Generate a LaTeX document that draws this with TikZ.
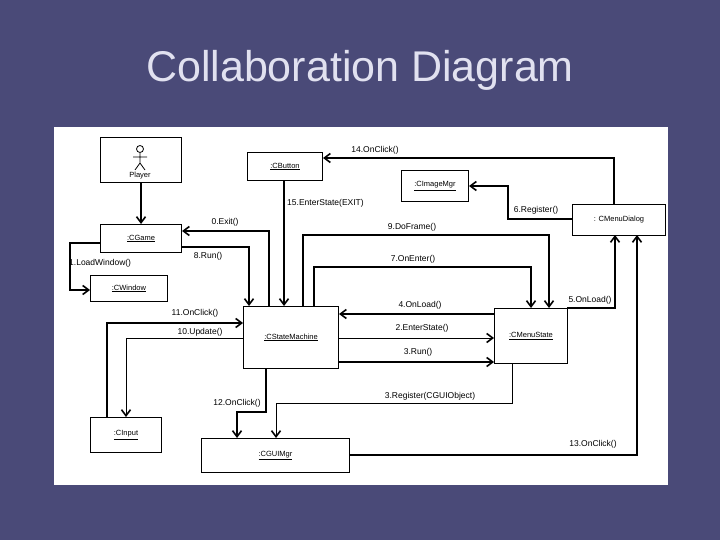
\documentclass[tikz,border=0pt]{standalone}
\usepackage{fontspec}
\setmainfont{Liberation Sans}
\usetikzlibrary{arrows.meta}
\begin{document}
\begin{tikzpicture}[x=1pt,y=-1pt,
  obj/.style={draw,line width=1pt,fill=white,inner sep=0pt,font=\fontsize{7.5}{8}\selectfont},
  msg/.style={line width=1.6pt,-{Straight Barb[length=6pt,width=9pt,line width=1.6pt]}},
  lbl/.style={font=\fontsize{8.5}{9}\selectfont,inner sep=1pt}]
\useasboundingbox (0,0) rectangle (720,540);
\fill[color={rgb,255:red,74;green,74;blue,120}] (0,0) rectangle (720,540);
\node[font=\fontsize{43}{48}\selectfont,text={rgb,255:red,225;green,225;blue,240}] (title) at (360,70) {Collaboration Diagram};
\node[fill=white,minimum width=614,minimum height=358,inner sep=0pt,anchor=north west] (panel) at (54,127) {};
% objects
\node[obj,minimum width=81,minimum height=45,anchor=north west] (player) at (100,137) {};
\node[font=\fontsize{7.5}{8}\selectfont,inner sep=0pt] (plabel) at (140,176) {Player};
\draw[line width=0.8pt] (140,149) circle (3.5) (140,152.5) -- (140,163) (133,157) -- (147,157) (140,163) -- (135,170) (140,163) -- (145,170);
\node[obj,minimum width=75,minimum height=28,anchor=north west] (button) at (247,152) {\underline{:CButton}};
\node[obj,minimum width=81,minimum height=28,anchor=north west] (game) at (100,224) {\underline{:CGame}};
\node[obj,minimum width=77,minimum height=26,anchor=north west] (window) at (90,275) {\underline{:CWindow}};
\node[obj,minimum width=67,minimum height=31,anchor=north west] (image) at (401,170) {\underline{:CImageMgr}};
\node[obj,minimum width=93,minimum height=31,anchor=north west] (dialog) at (572,204) {: CMenuDialog};
\node[obj,minimum width=95,minimum height=62,anchor=north west] (sm) at (243,306) {\underline{:CStateMachine}};
\node[obj,minimum width=73,minimum height=55,anchor=north west] (ms) at (494,308) {\underline{:CMenuState}};
\node[obj,minimum width=71,minimum height=35,anchor=north west] (input) at (90,417) {\underline{:CInput}};
\node[obj,minimum width=148,minimum height=34,anchor=north west] (gui) at (201,438) {\underline{:CGUIMgr}};
% messages
\draw[msg] (player) -- (game);
\draw[msg] (game.west |- 0,243) -- (70,243) -- (70,290) -- (window.west |- 0,290);
\node[lbl,anchor=west] (l1) at (68,263) {1.LoadWindow()};
\draw[msg] (269,306) -- (269,231) -- (game.east |- 0,231);
\node[lbl] (l0) at (225,222) {0.Exit()};
\draw[msg] (game.east |- 0,247) -- (249,247) -- (249,306);
\node[lbl] (l8) at (208,256) {8.Run()};
\draw[msg] (button.south -| 284,0) -- (284,306);
\node[lbl,anchor=west] (l15) at (286,203) {15.EnterState(EXIT)};
\draw[msg] (614,204) -- (614,158) -- (button.east |- 0,158);
\node[lbl] (l14) at (375,150) {14.OnClick()};
\draw[msg] (dialog.west |- 0,219) -- (508,219) -- (508,186) -- (image.east |- 0,186);
\node[lbl] (l6) at (536,210) {6.Register()};
\draw[msg] (303,306) -- (303,235) -- (549,235) -- (549,308);
\node[lbl] (l9) at (412,227) {9.DoFrame()};
\draw[msg] (314,306) -- (314,267) -- (531,267) -- (531,308);
\node[lbl] (l7) at (413,259) {7.OnEnter()};
\draw[msg] (567,308) -- (615,308) -- (615,235);
\node[lbl] (l5) at (590,300) {5.OnLoad()};
\draw[msg] (gui.east |- 0,455) -- (637,455) -- (637,235);
\node[lbl] (l13) at (593,444) {13.OnClick()};
\draw[msg] (ms.west |- 0,314) -- (sm.east |- 0,314);
\node[lbl] (l4) at (420,305) {4.OnLoad()};
\draw[msg,line width=1pt] (sm.east |- 0,338) -- (ms.west |- 0,338);
\node[lbl] (l2) at (422,328) {2.EnterState()};
\draw[msg] (sm.east |- 0,362) -- (ms.west |- 0,362);
\node[lbl] (l3) at (418,352) {3.Run()};
\draw[msg,line width=1pt] (512,363) -- (512,403) -- (276,403) -- (276,438);
\node[lbl] (l3r) at (430,396) {3.Register(CGUIObject)};
\draw[msg] (266,368) -- (266,412) -- (237,412) -- (237,438);
\node[lbl] (l12) at (237,403) {12.OnClick()};
\draw[msg] (107,417) -- (107,323) -- (sm.west |- 0,323);
\node[lbl] (l11) at (195,313) {11.OnClick()};
\draw[msg,line width=1pt] (sm.west |- 0,338) -- (126,338) -- (126,417);
\node[lbl] (l10) at (200,332) {10.Update()};
\end{tikzpicture}
\end{document}
